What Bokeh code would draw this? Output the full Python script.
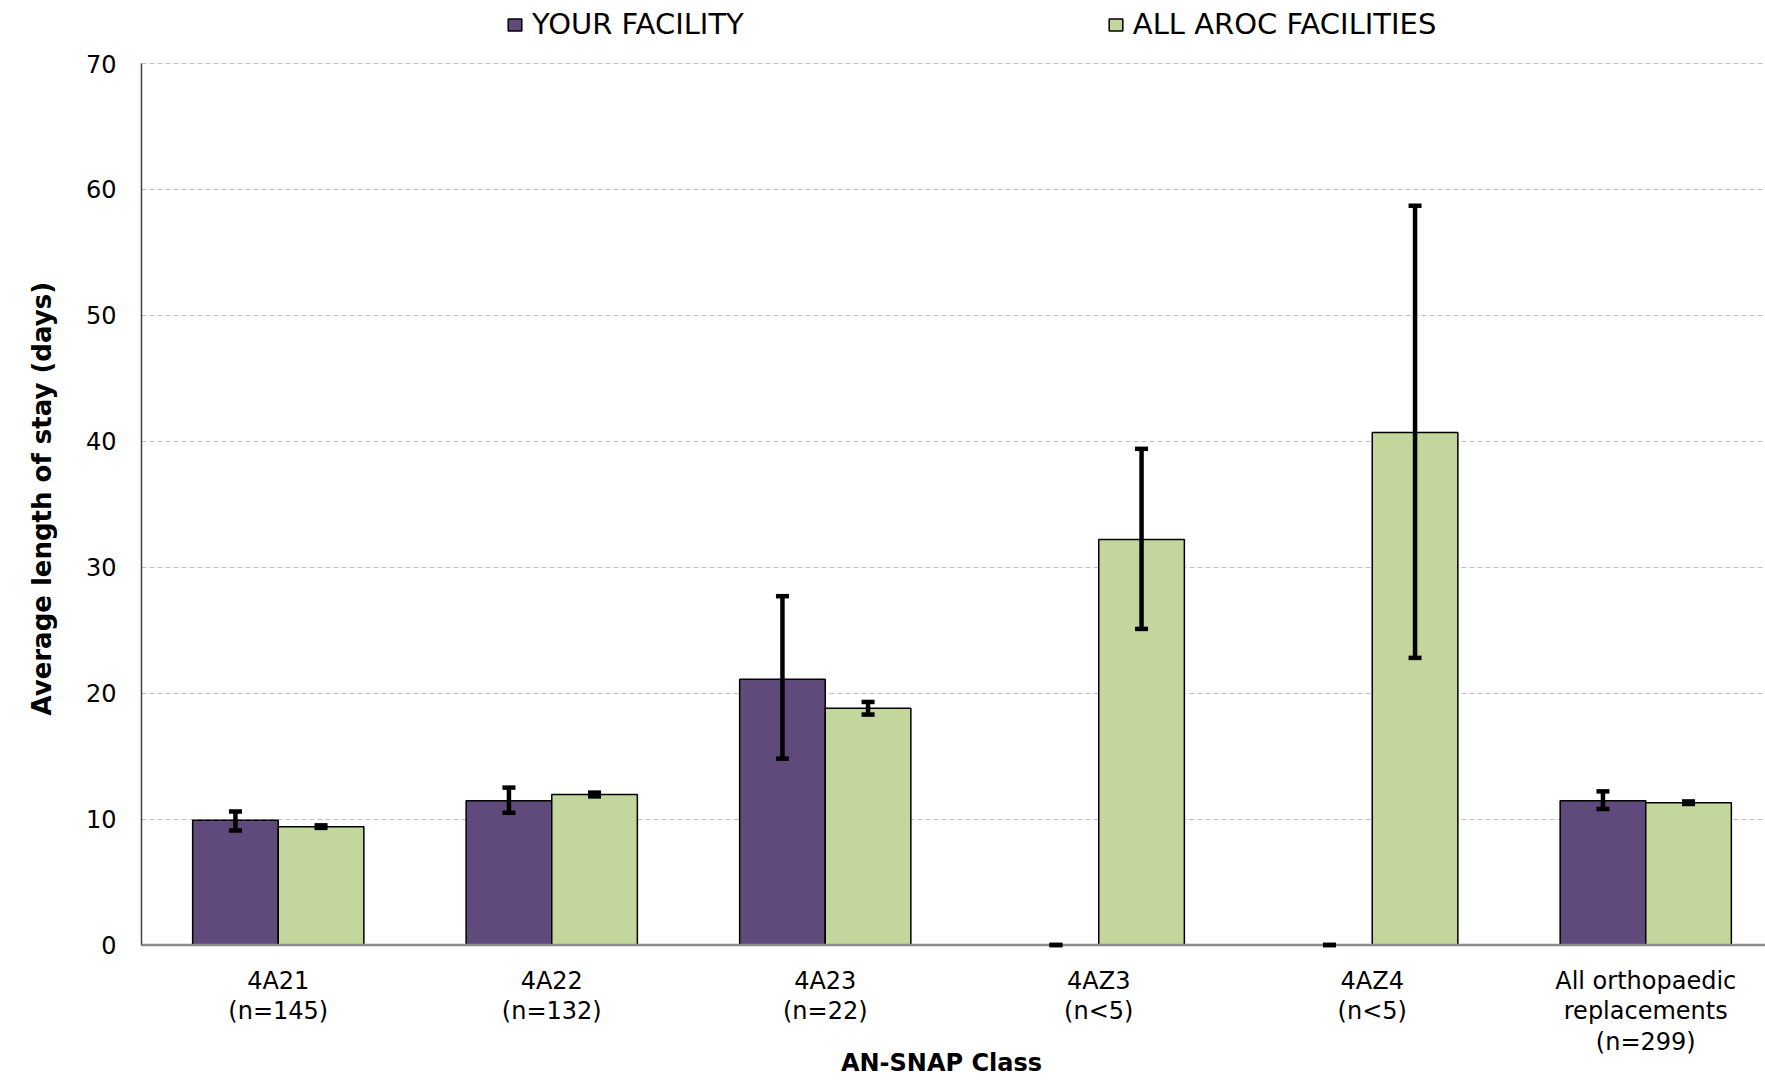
import numpy as np
from bokeh.plotting import figure
from bokeh.models import (ColumnDataSource, Whisker, TeeHead, Legend, LegendItem,
                          FixedTicker, Range1d, Span, Title)
from bokeh.core.properties import value
from bokeh.embed import file_html
from bokeh.resources import INLINE

# ---- data ----
categories = ["4A21", "4A22", "4A23", "4AZ3", "4AZ4", "All orthopaedic replacements"]
tick_labels = ["4A21\n(n=145)", "4A22\n(n=132)", "4A23\n(n=22)", "4AZ3\n(n<5)",
               "4AZ4\n(n<5)", "All orthopaedic\nreplacements\n(n=299)"]
facility_mean = [9.9, 11.45, 21.1, 0.0, 0.0, 11.45]
facility_lower = [9.1, 10.5, 14.8, 0.0, 0.0, 10.8]
facility_upper = [10.6, 12.5, 27.7, 0.0, 0.0, 12.2]
all_mean = [9.4, 11.95, 18.8, 32.2, 40.7, 11.3]
all_lower = [9.3, 11.8, 18.3, 25.1, 22.8, 11.2]
all_upper = [9.5, 12.1, 19.3, 39.4, 58.7, 11.4]
y_ticks = [0, 10, 20, 30, 40, 50, 60, 70]
series_names = ["YOUR FACILITY", "ALL AROC FACILITIES"]
x_title = "AN-SNAP Class"
y_title = "Average length of stay (days)"

PURPLE = "#604A7B"
GREEN = "#C3D69B"

n = len(categories)
centers = np.arange(n) + 0.5
bw = 0.313
fac_x = centers - bw / 2
all_x = centers + bw / 2

src_f = ColumnDataSource(dict(x=fac_x, top=facility_mean, lo=facility_lower, hi=facility_upper))
src_a = ColumnDataSource(dict(x=all_x, top=all_mean, lo=all_lower, hi=all_upper))

# layout: frame covers the whole canvas height; y scale in px per unit
W, H = 1765, 1076
LEFT = 141
PX = (944.5 - 63.0) / 70.0
ZERO = 944.5
SLOT = 273.5
y_lo = (ZERO - H) / PX
y_hi = ZERO / PX
x_hi = (W - LEFT) / SLOT

p = figure(width=W, height=H, output_backend="svg", toolbar_location=None,
           x_range=Range1d(0, x_hi), y_range=Range1d(y_lo, y_hi),
           x_axis_location=None,
           min_border_left=LEFT, min_border_right=0, min_border_top=0, min_border_bottom=0)
p.outline_line_color = None

r_f = p.vbar(x="x", top="top", width=bw, source=src_f, fill_color=PURPLE,
             line_color="black", line_width=1.5)
r_a = p.vbar(x="x", top="top", width=bw, source=src_a, fill_color=GREEN,
             line_color="black", line_width=1.5)

# x axis line at zero
p.add_layout(Span(location=0, dimension="width", line_color="#8c8c8c", line_width=2.5))

for src in (src_f, src_a):
    w = Whisker(base="x", lower="lo", upper="hi", source=src, line_color="black",
                line_width=4.5, level="overlay",
                upper_head=TeeHead(size=13, line_width=4.5, line_color="black"),
                lower_head=TeeHead(size=13, line_width=4.5, line_color="black"))
    p.add_layout(w)

# y axis
p.yaxis.bounds = (0, 70)
p.yaxis.ticker = FixedTicker(ticks=y_ticks)
p.yaxis.major_tick_out = 0
p.yaxis.major_tick_in = 0
p.yaxis.minor_tick_out = 0
p.yaxis.minor_tick_in = 0
p.yaxis.axis_line_color = "#404040"
p.yaxis.axis_line_width = 1.5
p.yaxis.major_label_text_font = "DejaVu Sans"
p.yaxis.major_label_text_font_size = "24px"
p.yaxis.major_label_text_color = "black"
p.yaxis.major_label_standoff = 25

# y axis title as a left-side title, anchored above the frame bottom
p.add_layout(Title(text=y_title, align="left", offset=H - 715, vertical_align="middle",
                   standoff=49, text_font="DejaVu Sans", text_font_style="bold",
                   text_font_size="26px", text_color="black"), "left")

p.xgrid.visible = False
p.ygrid.grid_line_color = "#bfbfbf"
p.ygrid.grid_line_dash = "5 3"
p.ygrid.grid_line_width = 1

# category labels below the zero line
lab_y = (ZERO - 966.0) / PX
p.text(x=centers, y=[lab_y] * n, text=tick_labels, text_align="center",
       text_baseline="top", text_font=value("DejaVu Sans"), text_font_size="24px",
       text_line_height=1.1, text_color="black")

# x axis title
t_y = (ZERO - 1062.0) / PX
p.text(x=[(941.0 - LEFT) / SLOT], y=[t_y], text=[x_title], text_align="center",
       text_baseline="middle", text_font=value("DejaVu Sans"), text_font_style="bold",
       text_font_size="24px", text_color="black")

legend = Legend(items=[LegendItem(label=series_names[0], renderers=[r_f]),
                       LegendItem(label=series_names[1], renderers=[r_a])],
                orientation="horizontal", location=(506 - LEFT, H - 41), spacing=363,
                glyph_width=17, glyph_height=15, label_standoff=9, padding=0, margin=0,
                label_height=30,
                label_text_font="DejaVu Sans", label_text_font_size="29px",
                label_text_color="black", border_line_color=None,
                background_fill_alpha=0)
p.add_layout(legend, "center")

open("out.html", "w").write(file_html(p, INLINE))
